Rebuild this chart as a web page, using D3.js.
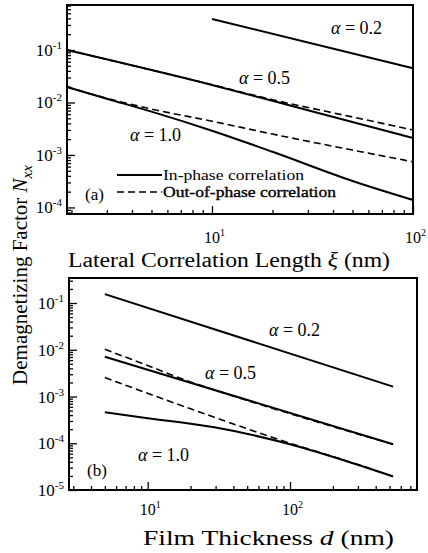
<!DOCTYPE html>
<html>
<head>
  <meta charset="utf-8">
  <style>
    body { margin: 0; background: #fff; }
    svg text { font-family: "Liberation Serif", "Times New Roman", serif; fill: #000; }
    .curve { fill: none; stroke: #000; stroke-width: 2; }
    .dash { stroke-dasharray: 7, 4; stroke-width: 1.6; }
  </style>
</head>
<body>
  <div id="chart"></div>
  <script src="https://d3js.org/d3.v7.min.js"></script>
  <script>

    // (a) N_xx against lateral correlation length xi (nm)
    const xiA02 = [10, 100];
    const nA02 = [0.39, 0.045];
    const xiA05In = [1.9, 10, 30, 100];
    const nA05In = [0.1, 0.0216, 0.0071, 0.0021];
    const xiA05Out = [1.9, 10, 20, 50, 100];
    const nA05Out = [0.1, 0.0218, 0.0113, 0.0053, 0.0030];
    const xiA10In = [1.9, 3, 5, 10, 20, 50, 100];
    const nA10In = [0.0197, 0.0118, 0.0067, 0.0029, 0.00115, 0.00032, 0.000139];
    const xiA10Out = [1.9, 3, 5, 10, 20, 50, 100];
    const nA10Out = [0.0197, 0.0120, 0.0075, 0.0044, 0.0025, 0.00124, 0.00074];

    // (b) N_xx against film thickness d (nm)
    const dA02 = [5, 530];
    const mA02 = [0.155, 0.00163];
    const dA05In = [5, 530];
    const mA05In = [0.0071, 0.000095];
    const dA05Out = [5, 10, 20, 33, 530];
    const mA05Out = [0.0102, 0.0046, 0.00205, 0.00124, 0.000095];
    const dA10In = [5, 10, 29.4, 100, 223, 530];
    const mA10In = [0.00046, 0.000344, 0.000219, 0.000095, 0.000046, 0.0000195];
    const dA10Out = [5, 29.4, 100, 223, 530];
    const mA10Out = [0.00254, 0.00036, 0.0001, 0.000047, 0.0000195];

    const majorA = [-1, -2, -3, -4];
    const majorB = [-1, -2, -3, -4, -5];
    const xMajorA = [1, 2];
    const xMajorB = [1, 2];

    const legendLabels = ['In-phase correlation', 'Out-of-phase correlation'];

    const W = 428, H = 553;

    const svg = d3.select('#chart').append('svg')
      .attr('width', W)
      .attr('height', H);

    function zip(xs, ys) {
      return xs.map((x, i) => [x, ys[i]]);
    }

    function isMajor(d) {
      var l = Math.log10(d);
      return Math.abs(l - Math.round(l)) < 1e-6;
    }

    function panel(cfg) {
      var x = d3.scaleLog().domain(cfg.xDomain).range([cfg.left, cfg.right]);
      var y = d3.scaleLog().domain(cfg.yDomain).range([cfg.bottom, cfg.top]);

      var g = svg.append('g');

      var line = d3.line()
        .curve(d3.curveMonotoneX)
        .x(d => x(d[0]))
        .y(d => y(d[1]));

      cfg.series.forEach(function(s) {
        g.append('path')
          .attr('class', s.dashed ? 'curve dash' : 'curve')
          .attr('d', line(zip(s.xs, s.ys)));
      });

      // inward ticks, left and bottom
      g.append('g')
        .attr('transform', `translate(${cfg.left},0)`)
        .call(d3.axisLeft(y).tickValues(y.ticks()).tickFormat('').tickSize(0))
        .call(ax => ax.select('.domain').remove())
        .selectAll('.tick line')
          .attr('x2', d => isMajor(d) ? 8 : 4)
          .attr('stroke', '#000')
          .attr('stroke-width', 1.3);

      g.append('g')
        .attr('transform', `translate(0,${cfg.bottom})`)
        .call(d3.axisBottom(x).tickValues(x.ticks()).tickFormat('').tickSize(0))
        .call(ax => ax.select('.domain').remove())
        .selectAll('.tick line')
          .attr('y2', d => isMajor(d) ? -8 : -4)
          .attr('stroke', '#000')
          .attr('stroke-width', 1.3);

      g.append('rect')
        .attr('x', cfg.left)
        .attr('y', cfg.top)
        .attr('width', cfg.right - cfg.left)
        .attr('height', cfg.bottom - cfg.top)
        .attr('fill', 'none')
        .attr('stroke', '#000')
        .attr('stroke-width', 2);

      // tick labels 10^n
      cfg.yMajor.forEach(function(e) {
        var t = g.append('text')
          .attr('x', cfg.left - 5)
          .attr('y', y(Math.pow(10, e)) + 6)
          .attr('text-anchor', 'end')
          .style('font-size', '17px');
        t.append('tspan').text('10');
        t.append('tspan').attr('dy', -7).style('font-size', '11px').text(e);
      });

      cfg.xMajor.forEach(function(e) {
        var t = g.append('text')
          .attr('x', x(Math.pow(10, e)) - 8)
          .attr('y', cfg.xLabelY)
          .style('font-size', '16px');
        t.append('tspan').text('10');
        t.append('tspan').attr('dy', -7).style('font-size', '10px').text(e);
      });

      return { g, x, y };
    }

    function alphaLabel(g, px, py, val) {
      var t = g.append('text')
        .attr('x', px)
        .attr('y', py)
        .style('font-size', '18px');
      t.append('tspan').style('font-style', 'italic').text('\u03b1');
      t.append('tspan').text(' = ' + val);
    }

    // PANEL (a)
    var a = panel({
      left: 67, right: 413, top: 5, bottom: 214,
      xDomain: [1.9, 100],
      yDomain: [7.5e-5, 0.72],
      yMajor: majorA,
      xMajor: xMajorA,
      xLabelY: 243,
      series: [
        { xs: xiA02, ys: nA02 },
        { xs: xiA05In, ys: nA05In },
        { xs: xiA05Out, ys: nA05Out, dashed: true },
        { xs: xiA10In, ys: nA10In },
        { xs: xiA10Out, ys: nA10Out, dashed: true }
      ]
    });

    alphaLabel(a.g, 331, 34, '0.2');
    alphaLabel(a.g, 239, 84, '0.5');
    alphaLabel(a.g, 130, 141, '1.0');

    a.g.append('text').attr('x', 85).attr('y', 200).style('font-size', '17px').text('(a)');

    a.g.append('line').attr('class', 'curve')
      .attr('x1', 117).attr('x2', 162).attr('y1', 175).attr('y2', 175)
      .attr('stroke-width', 1.4);
    a.g.append('line').attr('class', 'curve dash')
      .attr('stroke-dasharray', '5,3')
      .attr('x1', 117).attr('x2', 162).attr('y1', 192).attr('y2', 192);
    a.g.append('text').attr('x', 163).attr('y', 180).style('font-size', '15px')
      .attr('textLength', 141).attr('lengthAdjust', 'spacingAndGlyphs')
      .text(legendLabels[0]);
    a.g.append('text').attr('x', 163).attr('y', 197).style('font-size', '15px')
      .attr('textLength', 173).attr('lengthAdjust', 'spacingAndGlyphs')
      .style('stroke', '#000').style('stroke-width', 0.35)
      .text(legendLabels[1]);

    var ta = a.g.append('text')
      .attr('x', 68).attr('y', 267)
      .attr('textLength', 322).attr('lengthAdjust', 'spacingAndGlyphs')
      .style('font-size', '20px');
    ta.append('tspan').text('Lateral Correlation Length ');
    ta.append('tspan').style('font-style', 'italic').text('\u03be');
    ta.append('tspan').text(' (nm)');

    // PANEL (b)
    var b = panel({
      left: 69, right: 417, top: 278, bottom: 490,
      xDomain: [2.8, 780],
      yDomain: [1e-5, 0.343],
      yMajor: majorB,
      xMajor: xMajorB,
      xLabelY: 515,
      series: [
        { xs: dA02, ys: mA02 },
        { xs: dA05In, ys: mA05In },
        { xs: dA05Out, ys: mA05Out, dashed: true },
        { xs: dA10In, ys: mA10In },
        { xs: dA10Out, ys: mA10Out, dashed: true }
      ]
    });

    alphaLabel(b.g, 269, 336, '0.2');
    alphaLabel(b.g, 205, 379, '0.5');
    alphaLabel(b.g, 138, 461, '1.0');

    b.g.append('text').attr('x', 87).attr('y', 476).style('font-size', '17px').text('(b)');

    var tb = b.g.append('text')
      .attr('x', 143).attr('y', 545)
      .attr('textLength', 251).attr('lengthAdjust', 'spacingAndGlyphs')
      .style('font-size', '20px');
    tb.append('tspan').text('Film Thickness ');
    tb.append('tspan').style('font-style', 'italic').text('d');
    tb.append('tspan').text(' (nm)');

    // shared y title
    var ty = svg.append('text')
      .attr('transform', 'translate(27,275) rotate(-90)')
      .attr('text-anchor', 'middle')
      .style('font-size', '21px');
    ty.append('tspan').text('Demagnetizing Factor ');
    ty.append('tspan').style('font-style', 'italic').text('N');
    ty.append('tspan').attr('dy', 5).style('font-style', 'italic').style('font-size', '15px').text('xx');

  </script>
</body>
</html>
